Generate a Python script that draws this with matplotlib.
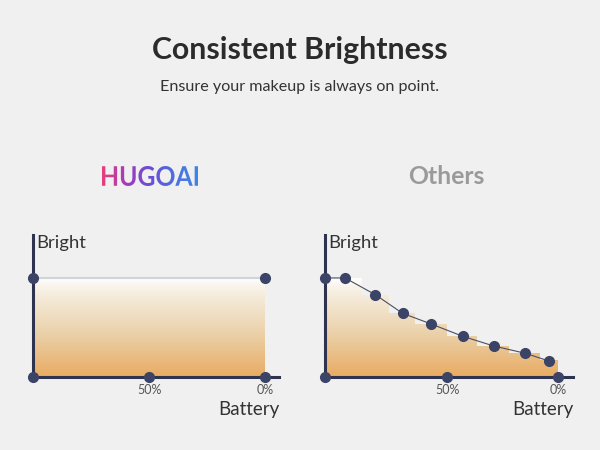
import numpy as np
import matplotlib.pyplot as plt
from matplotlib.colors import LinearSegmentedColormap
from matplotlib.patches import Polygon, PathPatch
from matplotlib.textpath import TextPath
from matplotlib.font_manager import FontProperties

# HUGOAI: brightness stays flat while battery drains
hugo_x = [0, 100]
hugo_y = [100, 100]

# Others: brightness drops with the battery
others_x = [0, 8.6, 21.6, 33.3, 45.6, 59.1, 72.4, 86.0, 96.0]
others_y = [100, 100, 83.1, 64.3, 53.5, 41.1, 31.3, 23.9, 16.2]
step_edges = [0.6, 15.8, 27.3, 38.8, 52.4, 65.2, 79.1, 92.4, 99.8]
step_levels = [100, 83.1, 64.3, 53.5, 41.1, 31.3, 23.9, 17.0]

ticks_left = [0, 50, 100]
ticks_right = [0, 52.4, 100]
tick_labels = ['', '50%', '0%']

BG = '#f0f0f0'
NAVY = '#2e3350'
DOT = '#3b4466'
plt.rcParams['font.family'] = ['Lato', 'DejaVu Sans']

fill_cmap = LinearSegmentedColormap.from_list(
    'fill', [(0, '#e8ab62'), (0.45, '#ebd2ac'), (0.85, '#f6eee0'), (1, '#ffffff')])
logo_cmap = LinearSegmentedColormap.from_list(
    'logo', ['#e63f7c', '#a23dbb', '#6a4ed6', '#4d6fe0', '#3f86e6'])

fig = plt.figure(figsize=(6, 4.5), dpi=100)
fig.patch.set_facecolor(BG)

fig.text(0.5, 1 - 50/450, 'Consistent Brightness', ha='center', va='center',
         fontsize=21.8, fontweight='bold', color='#2b2b2b')
fig.text(0.5, 1 - 87/450, 'Ensure your makeup is always on point.', ha='center', va='center',
         fontsize=11.6, color='#333333')
fig.text(446/600, 1 - 176/450, 'Others', ha='center', va='center',
         fontsize=17.8, fontweight='bold', color='#9a9a9a')

# gradient logo
lax = fig.add_axes([102/600, 1 - 186/450, 96/600, 20/450])
lax.axis('off')
tp = TextPath((0, 0), 'HUGOAI', size=10, prop=FontProperties(family='Lato', weight='bold'))
bb = tp.get_extents()
patch = PathPatch(tp, facecolor='none', edgecolor='none')
lax.add_patch(patch)
grad = np.tile(np.linspace(0, 1, 256), (16, 1))
im = lax.imshow(grad, cmap=logo_cmap, extent=[bb.x0, bb.x1, bb.y0, bb.y1],
                aspect='auto', origin='lower')
im.set_clip_path(patch)
lax.set_xlim(bb.x0, bb.x1)
lax.set_ylim(bb.y0, bb.y1)


def panel(left, width, xmax, ticks):
    ax = fig.add_axes([left/600, 73/450, width/600, 142/450])
    ax.set_xlim(0, xmax)
    ax.set_ylim(0, 143.4)
    ax.axis('off')
    ax.patch.set_alpha(0)
    ax.plot([0, 0], [0, 143.4], color=NAVY, lw=2.2, clip_on=False, zorder=3)
    ax.plot([0, xmax], [0, 0], color=NAVY, lw=2.2, clip_on=False, zorder=3)
    ax.plot(ticks, [0]*len(ticks), 'o', color=DOT, ms=7, clip_on=False, zorder=5)
    for t, lab in zip(ticks, tick_labels):
        ax.text(t, -13, lab, ha='center', va='center', fontsize=9, color='#555555', clip_on=False)
    ax.text(1.2, 135, 'Bright', ha='left', va='center', fontsize=13.3, color='#333333')
    ax.text(xmax, -33, 'Battery', ha='right', va='center', fontsize=13.5, color='#333333', clip_on=False)
    return ax


def gradient_fill(ax, verts):
    poly = Polygon(verts, closed=True, facecolor='none', edgecolor='none')
    ax.add_patch(poly)
    g = np.linspace(0, 1, 256).reshape(-1, 1)
    im = ax.imshow(g, cmap=fill_cmap, extent=[0, 100, 0, 100], aspect='auto',
                   origin='lower', zorder=1)
    im.set_clip_path(poly)


# left panel
ax1 = panel(33, 246, 106, ticks_left)
gradient_fill(ax1, [(0.8, 0), (0.8, 100), (100, 100), (100, 0)])
ax1.plot(hugo_x, hugo_y, color='#cdd4db', lw=1.5, zorder=2)
ax1.plot(hugo_x, hugo_y, 'o', color=DOT, ms=7, zorder=5, clip_on=False)

# right panel
ax2 = panel(325, 248, 106.4, ticks_right)
verts = [(step_edges[0], 0)]
for i, lv in enumerate(step_levels):
    verts += [(step_edges[i], lv), (step_edges[i + 1], lv)]
verts.append((step_edges[-1], 0))
gradient_fill(ax2, verts)
ax2.plot(others_x, others_y, color='#4a4f62', lw=0.8, zorder=4)
ax2.plot(others_x, others_y, 'o', color=DOT, ms=7, zorder=5, clip_on=False)

fig.savefig('out.png', dpi=100, facecolor=BG)
